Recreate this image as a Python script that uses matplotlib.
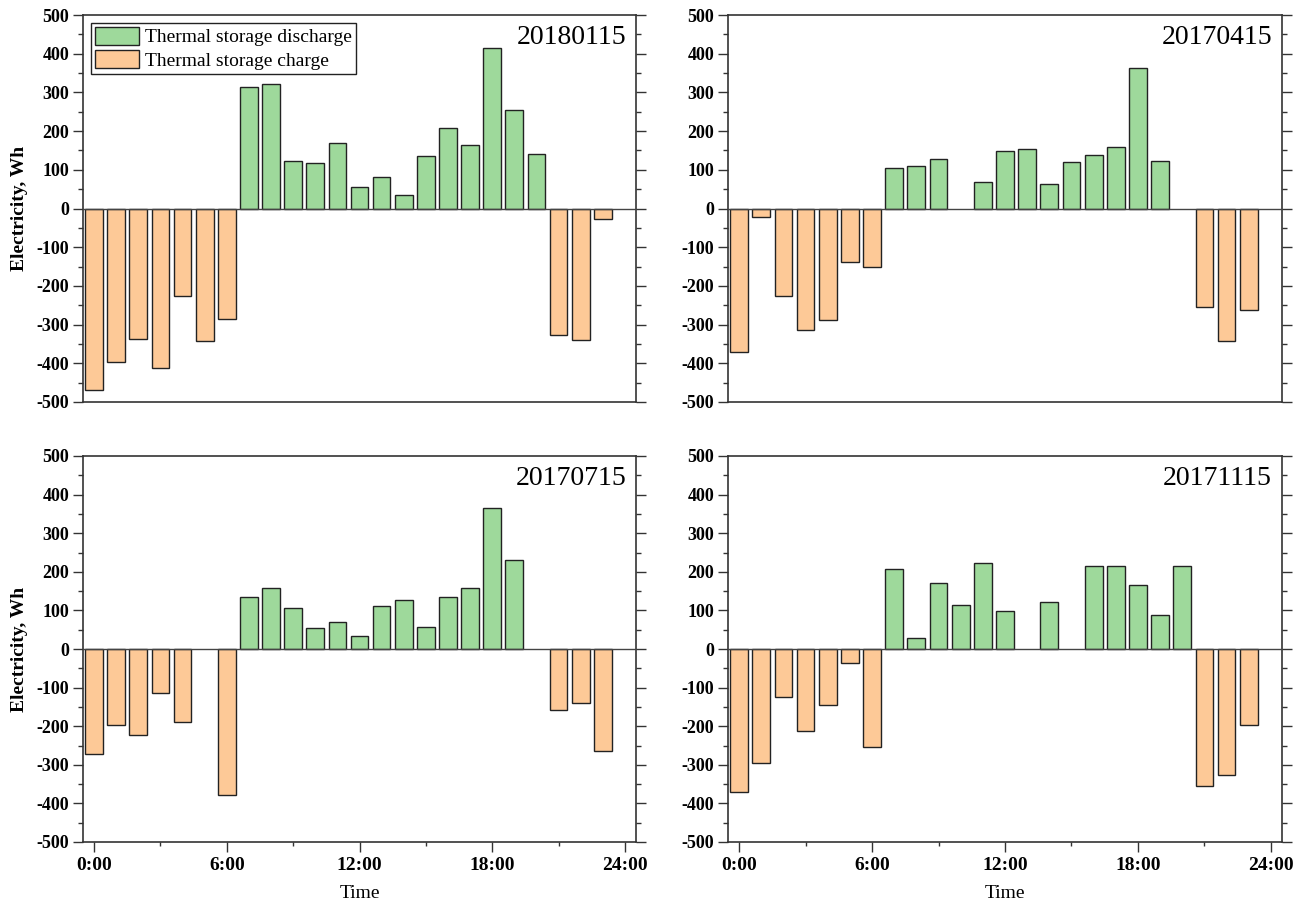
import matplotlib
matplotlib.use('Agg')
import matplotlib.pyplot as plt
from matplotlib.ticker import MultipleLocator
import numpy as np

plt.rcParams['font.family'] = 'Liberation Serif'
plt.rcParams['axes.unicode_minus'] = False

# hourly thermal storage electricity (Wh), positive = discharge, negative = charge
hours = list(range(24))
dates = ['20180115', '20170415', '20170715', '20171115']

jan = [-470, -397, -337, -413, -227, -342, -285, 313, 321, 123, 117, 168,
       55, 81, 34, 136, 209, 165, 415, 255, 141, -326, -339, -26]
apr = [-371, -21, -227, -313, -288, -138, -150, 104, 110, 128, 0, 68,
       149, 155, 64, 120, 139, 158, 364, 123, 0, -254, -342, -262]
jul = [-271, -197, -224, -113, -189, 0, -378, 134, 159, 106, 54, 71,
       34, 111, 128, 57, 136, 159, 366, 230, 0, -157, -139, -263]
nov = [-370, -295, -125, -212, -146, -37, -255, 208, 28, 170, 114, 222,
       99, 0, 121, 0, 216, 215, 167, 89, 215, -355, -327, -197]
series = [jan, apr, jul, nov]

green = '#9ED99B'
orange = '#FDC997'
xtick_pos = [0, 6, 12, 18, 24]
xtick_lab = ['0:00', '6:00', '12:00', '18:00', '24:00']

fig = plt.figure(figsize=(13.09, 9.06), dpi=100)
W, H = 1309, 906
rects = [(83, 15, 636, 402), (728, 15, 1282, 402),
         (83, 456, 636, 842), (728, 456, 1282, 842)]

for i, (vals, date) in enumerate(zip(series, dates)):
    x0, y0, x1, y1 = rects[i]
    ax = fig.add_axes([x0 / W, 1 - y1 / H, (x1 - x0) / W, (y1 - y0) / H])
    v = np.array(vals)
    h = np.array(hours)
    ax.bar(h[v > 0], v[v > 0], width=0.8, color=green, edgecolor='#222222',
           linewidth=1.0, label='Thermal storage discharge', zorder=2)
    ax.bar(h[v < 0], v[v < 0], width=0.8, color=orange, edgecolor='#222222',
           linewidth=1.0, label='Thermal storage charge', zorder=2)
    ax.axhline(0, color='#444444', linewidth=1.0, zorder=3)

    ax.set_xlim(-0.5, 24.5)
    ax.set_ylim(-500, 500)
    ax.yaxis.set_major_locator(MultipleLocator(100))
    ax.yaxis.set_minor_locator(MultipleLocator(50))
    ax.tick_params(axis='y', which='both', direction='out', left=True, right=True,
                   labelleft=True, labelright=False, color='#333333')
    ax.tick_params(axis='y', which='major', length=7, width=1.0, pad=3)
    ax.tick_params(axis='y', which='minor', length=3.5, width=1.0)
    for lab in ax.get_yticklabels():
        lab.set_fontweight('bold')
        lab.set_fontsize(13)

    for sp in ax.spines.values():
        sp.set_color('#333333')
        sp.set_linewidth(1.2)

    if i >= 2:
        ax.set_xticks(xtick_pos)
        ax.set_xticklabels(xtick_lab, fontsize=14, fontweight='bold')
        ax.set_xticks([3, 9, 15, 21], minor=True)
        ax.tick_params(axis='x', which='major', direction='out', length=7,
                       width=1.0, pad=4, color='#333333')
        ax.tick_params(axis='x', which='minor', direction='out', length=3,
                       width=1.0, color='#333333')
        ax.set_xlabel('Time', fontsize=14)
        ax.xaxis.set_label_coords(0.5, -0.112)
    else:
        ax.set_xticks([])
        ax.set_xticks([], minor=True)

    if i % 2 == 0:
        ax.set_ylabel('Electricity, Wh', fontsize=14, fontweight='bold')
        ax.yaxis.set_label_coords(-0.1, 0.5)

    ax.text(0.982, 0.975, date, transform=ax.transAxes, ha='right', va='top',
            fontsize=20)

    if i == 0:
        ax.legend(loc='upper left', fontsize=14, frameon=True, fancybox=False,
                  edgecolor='#222222', framealpha=1, borderaxespad=0.4,
                  handlelength=2.3, handleheight=1.05, labelspacing=0.2,
                  handletextpad=0.3, borderpad=0.2)

fig.savefig('out.png', dpi=100)
